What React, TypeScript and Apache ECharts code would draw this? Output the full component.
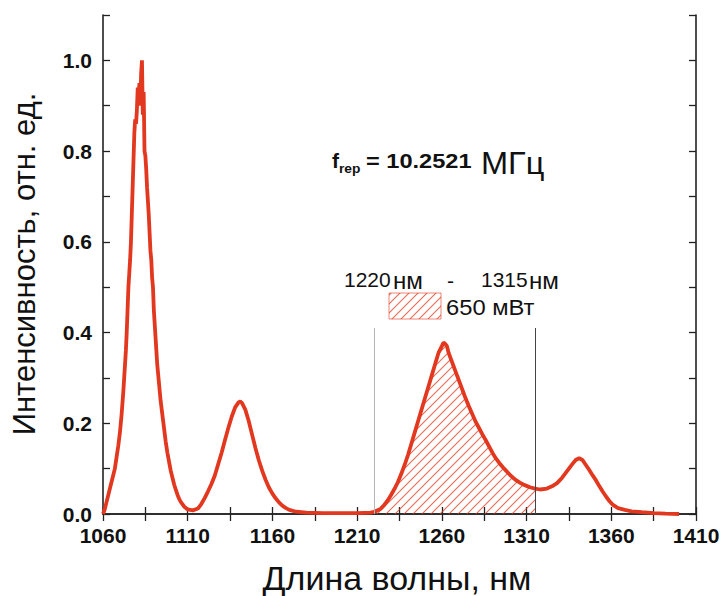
import React, { useEffect, useRef } from "react";
import * as echarts from "echarts";

// Spectrum: wavelength (nm) and normalised intensity
const wavelength = [
  1060, 1061, 1062, 1063, 1064, 1065, 1066, 1067, 1068, 1069, 1070, 1071, 1072, 1072.5, 1073, 1073.5,
  1074, 1074.5, 1075, 1075.5, 1076, 1076.5, 1077, 1077.5, 1078, 1078.5, 1079, 1079.5, 1080, 1080.5,
  1081, 1081.5, 1082, 1082.5, 1083, 1083.5, 1084, 1084.5, 1085, 1085.5, 1086, 1086.5, 1087, 1087.5,
  1088, 1088.5, 1089, 1089.5, 1090, 1090.5, 1091, 1091.5, 1092, 1093, 1094, 1095, 1096, 1097, 1098,
  1099, 1100, 1101, 1102, 1103, 1104, 1105, 1106, 1108, 1110, 1113, 1116, 1118, 1120, 1122, 1124,
  1126, 1128, 1130, 1132, 1134, 1136, 1138, 1140, 1141, 1142, 1144, 1146, 1148, 1150, 1152, 1154,
  1156, 1158, 1160, 1162, 1164, 1166, 1168, 1170, 1174, 1180, 1190, 1200, 1210, 1218, 1220, 1222,
  1224, 1226, 1228, 1230, 1232, 1234, 1236, 1238, 1240, 1242, 1244, 1246, 1248, 1250, 1252, 1254,
  1256, 1258, 1260, 1261, 1262, 1263, 1264, 1266, 1268, 1270, 1272, 1274, 1276, 1278, 1280, 1282,
  1284, 1286, 1288, 1290, 1292, 1294, 1296, 1298, 1300, 1302, 1304, 1306, 1308, 1310, 1312, 1315,
  1318, 1322, 1325, 1328, 1331, 1334, 1337, 1339, 1341, 1343, 1345, 1347, 1349, 1351, 1353, 1355,
  1357, 1359, 1361, 1364, 1368, 1372, 1378, 1385, 1392, 1400,
];
const intensity = [
  0.0, 0.01, 0.025, 0.04, 0.055, 0.07, 0.085, 0.1, 0.125, 0.15, 0.18, 0.22, 0.27, 0.3, 0.33, 0.36,
  0.4, 0.45, 0.5, 0.53, 0.56, 0.6, 0.66, 0.72, 0.78, 0.84, 0.87, 0.86, 0.89, 0.94,
  0.92, 0.95, 0.9, 0.97, 1.0, 0.88, 0.93, 0.8, 0.79, 0.76, 0.72, 0.69, 0.66, 0.62,
  0.58, 0.56, 0.52, 0.5, 0.45, 0.42, 0.39, 0.36, 0.33, 0.29, 0.25, 0.22, 0.19, 0.16, 0.135,
  0.115, 0.095, 0.08, 0.065, 0.053, 0.042, 0.033, 0.026, 0.016, 0.01, 0.008, 0.012, 0.022, 0.035, 0.05, 0.066,
  0.085, 0.11, 0.135, 0.163, 0.19, 0.215, 0.235, 0.246, 0.248, 0.245, 0.23, 0.205, 0.175, 0.145, 0.118, 0.095,
  0.075, 0.058, 0.045, 0.034, 0.025, 0.018, 0.013, 0.009, 0.005, 0.003, 0.002, 0.002, 0.002, 0.003, 0.005, 0.008,
  0.012, 0.02, 0.03, 0.042, 0.055, 0.07, 0.088, 0.108, 0.13, 0.155, 0.18, 0.205, 0.23, 0.255, 0.28, 0.305,
  0.33, 0.355, 0.37, 0.378, 0.375, 0.37, 0.355, 0.335, 0.315, 0.295, 0.275, 0.255, 0.237, 0.22, 0.203, 0.189,
  0.175, 0.162, 0.148, 0.134, 0.122, 0.112, 0.103, 0.095, 0.087, 0.08, 0.074, 0.069, 0.065, 0.062, 0.059, 0.056,
  0.054, 0.056, 0.061, 0.068, 0.08, 0.095, 0.11, 0.119, 0.123, 0.119, 0.108, 0.097, 0.085, 0.074, 0.061, 0.049,
  0.038, 0.028, 0.02, 0.013, 0.009, 0.006, 0.004, 0.002, 0.001, 0.0,
];

// Integration window of the hatched band (nm)
const bandStart = 1220;
const bandEnd = 1315;
const bandMarkerTop = 0.41;

const xTicks = { min: 1060, max: 1410, interval: 50 };
const yTicks = { min: 0, max: 1.1, interval: 0.2 };

const RED = "#e2381f";
const FONT = "'Liberation Sans', Arial, sans-serif";

function makeHatch(size: number, color: string) {
  const c = document.createElement("canvas");
  c.width = size;
  c.height = size;
  const ctx = c.getContext("2d")!;
  ctx.strokeStyle = color;
  ctx.lineWidth = 1.1;
  ctx.beginPath();
  ctx.moveTo(0, size);
  ctx.lineTo(size, 0);
  ctx.moveTo(-1, 1);
  ctx.lineTo(1, -1);
  ctx.moveTo(size - 1, size + 1);
  ctx.lineTo(size + 1, size - 1);
  ctx.stroke();
  return c;
}

function label(text: string, x: number, y: number, font: string, scaleX = 1) {
  return {
    type: "text",
    x,
    y,
    scaleX,
    style: { text, font, fill: "#111", textVerticalAlign: "middle" },
  };
}

export default function App() {
  const ref = useRef<HTMLDivElement>(null);

  useEffect(() => {
    if (!ref.current) return;
    const chart = echarts.init(ref.current, undefined, { renderer: "svg" });

    const spectrum = wavelength.map((w, i) => [w, intensity[i]]);
    const band = spectrum.filter(([w]) => w >= bandStart && w <= bandEnd);
    const hatch = { image: makeHatch(9, "rgba(226,56,31,0.75)"), repeat: "repeat" };

    const tickFont = {
      fontFamily: FONT,
      fontWeight: "bold" as const,
      fontSize: 21,
      color: "#111",
    };
    // negative lengths point the ticks into the plot frame
    const axisLine = { show: true, lineStyle: { color: "#222", width: 1.6 } };
    const axisTick = { show: true, inside: false, length: -7, lineStyle: { color: "#222", width: 1.3 } };
    const minorTick = { show: true, splitNumber: 2, length: -7, lineStyle: { color: "#222", width: 1.3 } };

    chart.setOption({
      animation: false,
      backgroundColor: "#fff",
      grid: { left: 103, right: 29, top: 15, bottom: 82, containLabel: false },
      xAxis: [
        {
          type: "value",
          position: "bottom",
          ...xTicks,
          axisLine,
          axisTick,
          minorTick,
          splitLine: { show: false },
          axisLabel: { ...tickFont, margin: 11, formatter: (v: number) => String(v) },
        },
        {
          type: "value",
          position: "top",
          ...xTicks,
          axisLine,
          axisTick,
          minorTick,
          splitLine: { show: false },
          axisLabel: { show: false },
        },
      ],
      yAxis: [
        {
          type: "value",
          position: "left",
          ...yTicks,
          axisLine,
          axisTick,
          minorTick,
          splitLine: { show: false },
          axisLabel: {
            ...tickFont,
            margin: 11,
            showMaxLabel: false,
            formatter: (v: number) => v.toFixed(1),
          },
        },
        {
          type: "value",
          position: "right",
          ...yTicks,
          axisLine,
          axisTick,
          minorTick,
          splitLine: { show: false },
          axisLabel: { show: false },
        },
      ],
      series: [
        {
          name: "band",
          type: "line",
          data: band,
          showSymbol: false,
          silent: true,
          z: 1,
          lineStyle: { width: 0, opacity: 0 },
          areaStyle: { color: hatch, opacity: 1 },
          markLine: {
            symbol: "none",
            silent: true,
            label: { show: false },
            data: [
              [
                { coord: [bandStart, 0], lineStyle: { color: "#b5b5b5", width: 1, type: "solid" } },
                { coord: [bandStart, bandMarkerTop] },
              ],
              [
                { coord: [bandEnd, 0], lineStyle: { color: "#444", width: 1, type: "solid" } },
                { coord: [bandEnd, bandMarkerTop] },
              ],
            ],
          },
        },
        {
          name: "spectrum",
          type: "line",
          data: spectrum,
          showSymbol: false,
          z: 3,
          lineStyle: { color: RED, width: 3.8 },
        },
      ],
      graphic: [
        {
          type: "text",
          x: 24,
          y: 264,
          rotation: Math.PI / 2,
          style: {
            text: "Интенсивность, отн. ед.",
            font: `31px ${FONT}`,
            fill: "#111",
            textAlign: "center",
            textVerticalAlign: "middle",
          },
        },
        {
          type: "text",
          x: 397,
          y: 578,
          style: {
            text: "Длина волны, нм",
            font: `34px ${FONT}`,
            fill: "#111",
            textAlign: "center",
            textVerticalAlign: "middle",
          },
        },
        // repetition rate annotation
        label("f", 332, 160, `bold 21px ${FONT}`),
        label("rep", 339, 169, `bold 12px ${FONT}`, 1.15),
        label("= 10.2521", 366, 161, `bold 20px ${FONT}`, 1.18),
        label("МГц", 481, 163, `31px ${FONT}`, 1.05),
        // band limits
        label("1220", 344, 279, `21px ${FONT}`),
        label("нм", 393, 281, `23px ${FONT}`, 1.05),
        label("-", 447, 280, `21px ${FONT}`),
        label("1315", 481, 279, `21px ${FONT}`),
        label("нм", 529, 281, `23px ${FONT}`, 1.05),
        // hatched legend swatch
        {
          type: "rect",
          shape: { x: 389, y: 293, width: 52, height: 26 },
          style: { fill: hatch, stroke: "rgba(226,56,31,0.6)", lineWidth: 1 },
        },
        label("650 мВт", 446, 307, `22px ${FONT}`, 1.08),
      ],
    });

    return () => chart.dispose();
  }, []);

  return (
    <div
      ref={ref}
      style={{ position: "fixed", left: 0, top: 0, width: 725, height: 596 }}
    />
  );
}
